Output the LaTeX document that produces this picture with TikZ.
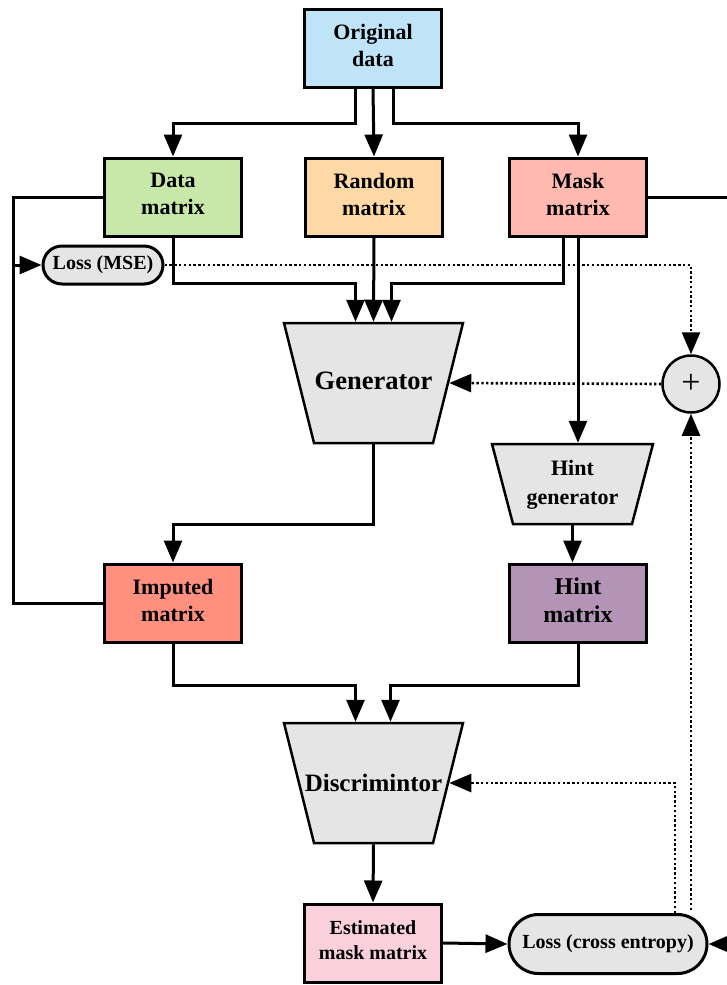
\documentclass[tikz,border=0pt]{standalone}
\usepackage{fontspec}
\setmainfont{Liberation Serif}
\usetikzlibrary{shapes.geometric,shapes.misc,arrows.meta}
\definecolor{cOrig}{HTML}{C0E4F7}
\definecolor{cData}{HTML}{C8E8AA}
\definecolor{cRand}{HTML}{FFD9A5}
\definecolor{cMask}{HTML}{FFB9AE}
\definecolor{cImp}{HTML}{FF9080}
\definecolor{cHint}{HTML}{B393B6}
\definecolor{cEst}{HTML}{FAD0DC}
\definecolor{cGray}{HTML}{E5E5E5}
\tikzset{
  box/.style={draw, line width=3pt, minimum width=137pt, minimum height=78pt, align=center, inner sep=2pt,
    text depth=6pt, font=\fontsize{22}{27}\selectfont\bfseries},
  trapbox/.style={rectangle, align=center, inner sep=0pt, outer sep=1.25pt},
  trapline/.style={draw, line width=2.5pt, fill=cGray, line join=miter},
  pill/.style={rounded rectangle, draw, line width=3pt, fill=cGray, inner sep=0pt},
  conn/.style={line width=3pt, -{Triangle[length=22pt,width=18pt]}},
  plainline/.style={line width=3pt},
  dots/.style={line width=2.6pt, dash pattern=on 2.4pt off 2.4pt, -{Triangle[length=22pt,width=18pt]}},
}
\begin{document}
\begin{tikzpicture}[x=1pt,y=-1pt]
\useasboundingbox (0,0) rectangle (726,985);
% trapezoid outlines (drawn first, nodes above)
\draw[trapline] (284,323) -- (463,323) -- (433,443) -- (314,443) -- cycle;
\draw[trapline] (284,723) -- (463,723) -- (433,843) -- (314,843) -- cycle;
\draw[trapline] (492,444) -- (653,444) -- (632,524) -- (513,524) -- cycle;
% nodes
\node[box, fill=cOrig] (orig) at (373,48) {Original\\data};
\node[box, fill=cData] (data) at (173,197) {Data\\matrix};
\node[box, fill=cRand] (rand) at (374,197) {Random\\matrix};
\node[box, fill=cMask] (mask) at (578,197) {Mask\\matrix};
\node[pill, minimum width=120pt, minimum height=38pt, font=\fontsize{20}{22}\selectfont\bfseries] (mse) at (103,265) {Loss (MSE)};
\node[trapbox, minimum width=179pt, minimum height=120pt, font=\fontsize{26.5}{30}\selectfont\bfseries] (gen) at (373.5,383) {\raisebox{5pt}{Generator}};
\node[ellipse, draw, line width=2.5pt, fill=cGray, minimum width=57pt, minimum height=57pt, inner sep=0pt] (plus) at (691,384) {};
\node[font=\fontsize{34}{34}\selectfont] at (plus) {+};
\node[trapbox, minimum width=161pt, minimum height=80pt, font=\fontsize{22}{28}\selectfont\bfseries] (hgen) at (572.5,484) {\raisebox{-2pt}{\begin{tabular}{@{}c@{}}Hint\\[1pt]generator\end{tabular}}};
\node[box, fill=cImp] (imp) at (173,603) {Imputed\\matrix};
\node[box, fill=cHint, font=\fontsize{24}{28}\selectfont\bfseries] (hint) at (578,603) {Hint\\matrix};
\node[trapbox, minimum width=179pt, minimum height=120pt, font=\fontsize{25}{30}\selectfont\bfseries] (disc) at (373.5,783) {Discrimintor};
\node[box, fill=cEst, font=\fontsize{20}{25}\selectfont\bfseries] (est) at (373,943) {Estimated\\mask matrix};
\node[pill, minimum width=198pt, minimum height=59pt, font=\fontsize{20}{22}\selectfont\bfseries] (ce) at (608,944) {Loss (cross entropy)};
% edge coordinates
\coordinate (L) at (13,0);
\coordinate (R) at (730,0);
% connectors from original data
\draw[conn] ([xshift=-18pt]orig.south) -- ++(0,35) -| (data.north);
\draw[conn] (orig.south) -- (rand.north);
\draw[conn] ([xshift=20pt]orig.south) -- ++(0,35) -| (mask.north);
% data matrix loop
\draw[plainline] (data.west) -| (L |- imp.west) -- (imp.west);
\draw[conn] (L |- mse.west) -- (mse.west);
% into generator
\draw[conn] (data.south) -- ++(0,46) -| ([xshift=-18pt]gen.north);
\draw[conn] (rand.south) -- (gen.north);
\draw[conn] ([xshift=-15pt]mask.south) -- ++(0,46) -| ([xshift=18pt]gen.north);
% mask to hint generator
\draw[conn] (mask.south) -- (mask.south |- hgen.north);
\draw[plainline] (mask.east) -- (mask.east -| R);
% losses
\draw[dots] (mse.east) -| (plus.north);
\draw[dots] (plus.west) -- ([xshift=-15pt]gen.east);
\coordinate (ceA) at ([yshift=3pt]ce.north -| plus);
\coordinate (ceB) at ([xshift=-16pt]ce.north -| plus);
\draw[dots] (ceA) -- (plus.south);
\draw[dots] (ceB) |- ([xshift=-15pt]disc.east);
% generator to imputed
\draw[conn] (gen.south) -- ++(0,80) -| (imp.north);
\draw[conn] (hgen.south) -- (hint.north -| hgen.south);
% into discriminator
\draw[conn] (imp.south) -- ++(0,42) -| ([xshift=-18pt]disc.north);
\draw[conn] (hint.south) -- ++(0,42) -| ([xshift=17pt]disc.north);
\draw[conn] (disc.south) -- (est.north);
\draw[conn] (est.east) -- (ce.west);
\draw[conn] (ce.east -| R) -- (ce.east);
\end{tikzpicture}
\end{document}
